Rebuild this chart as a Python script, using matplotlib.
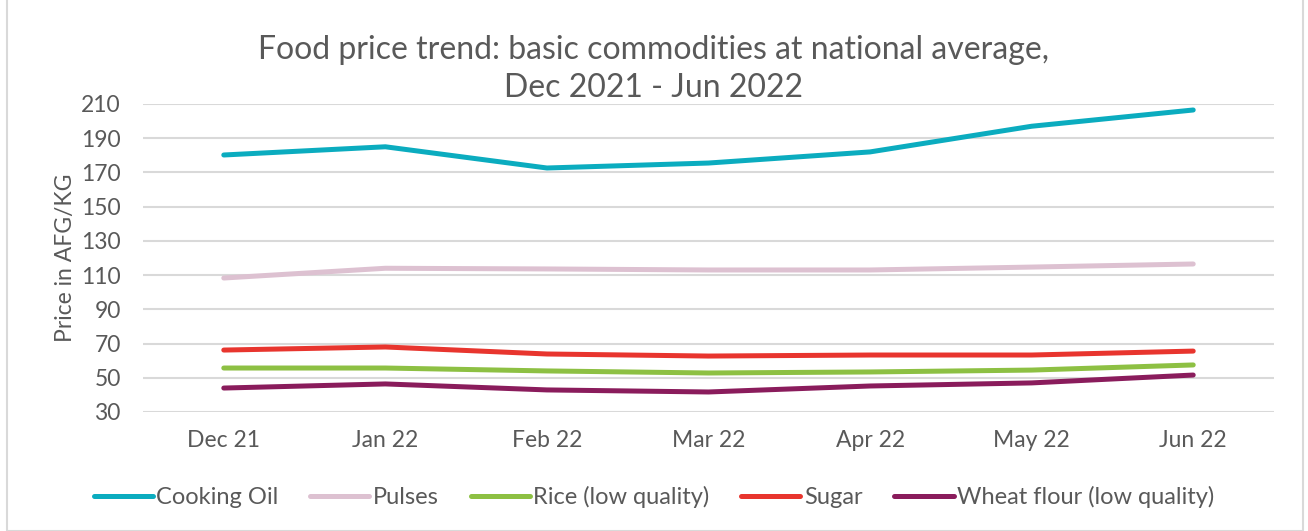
import matplotlib.pyplot as plt
from matplotlib.patches import Rectangle

months = ["Dec 21", "Jan 22", "Feb 22", "Mar 22", "Apr 22", "May 22", "Jun 22"]
cooking_oil = [180.2, 185.0, 172.6, 175.5, 182.0, 197.0, 206.5]
pulses = [108.3, 114.0, 113.6, 113.0, 113.0, 114.7, 116.5]
rice = [55.7, 55.7, 54.0, 52.8, 53.4, 54.5, 57.5]
sugar = [66.2, 68.0, 63.9, 62.7, 63.3, 63.3, 65.6]
wheat = [44.0, 46.4, 42.9, 41.7, 45.2, 47.0, 51.6]

series = [
    ("Cooking Oil", cooking_oil, "#0BACBF"),
    ("Pulses", pulses, "#DDC1D1"),
    ("Rice (low quality)", rice, "#8DC043"),
    ("Sugar", sugar, "#E8352E"),
    ("Wheat flour (low quality)", wheat, "#8A1C5C"),
]

plt.rcParams['font.family'] = ['Lato', 'DejaVu Sans']
text_col = "#595959"

fig = plt.figure(figsize=(13.08, 5.31), dpi=100)
ax = fig.add_axes([143 / 1308, 1 - 412 / 531, (1274 - 143) / 1308, (412 - 104) / 531])

# outer chart border
fig.patches.append(Rectangle((7 / 1308, 0), (1303 - 7) / 1308, 1.2, transform=fig.transFigure,
                             fill=False, edgecolor="#D9D9D9", linewidth=1.5))

x = range(len(months))
for name, vals, col in series:
    ax.plot(x, vals, color=col, linewidth=3.6, solid_capstyle='round',
            solid_joinstyle='round', label=name)

ax.set_xlim(-0.5, len(months) - 0.5)
ax.set_ylim(30, 210)
ax.set_yticks(range(30, 211, 20))
ax.set_xticks(list(x))
ax.set_xticklabels(months)
ax.grid(axis='y', color="#D9D9D9", linewidth=1.5)
ax.set_axisbelow(True)
for s in ax.spines.values():
    s.set_visible(False)
ax.tick_params(length=0, labelsize=16.5, colors=text_col)
ax.tick_params(axis='y', pad=16)
ax.tick_params(axis='x', pad=13)
ax.set_ylabel("Price in AFG/KG", fontsize=16.5, color=text_col)
ax.yaxis.set_label_coords((76 - 143) / 1131, 0.5)

fig.text(0.5, 1 - 50 / 531, "Food price trend: basic commodities at national average,",
         ha='center', va='center', fontsize=23, color=text_col)
fig.text(0.5, 1 - 88 / 531, "Dec 2021 - Jun 2022",
         ha='center', va='center', fontsize=23, color=text_col)

fig.legend(loc='center', bbox_to_anchor=(0.5, 1 - 497 / 531), ncol=5, frameon=False,
           fontsize=17, labelcolor=text_col, handlelength=2.5, handletextpad=0.15,
           columnspacing=1.35)

fig.savefig("out.png", dpi=100)
